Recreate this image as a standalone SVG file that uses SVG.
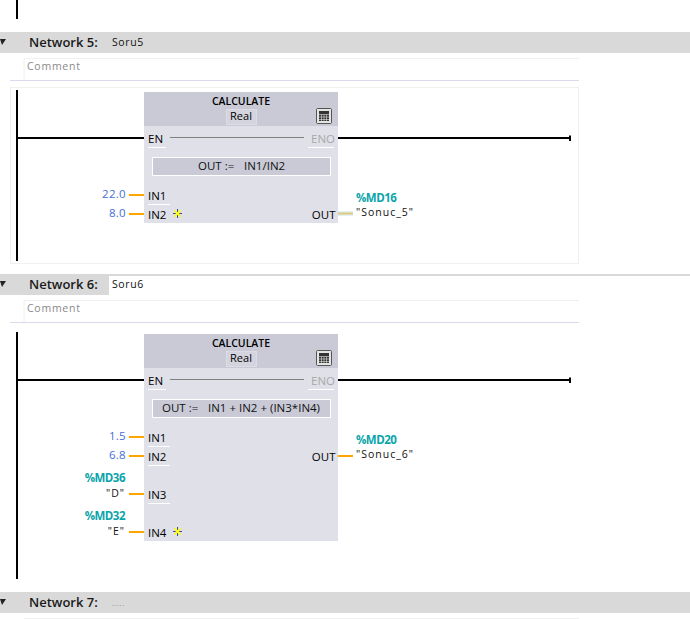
<svg xmlns="http://www.w3.org/2000/svg" width="690" height="619" viewBox="0 0 690 619">
<style>
text{font-family:"Open Sans","Noto Sans","DejaVu Sans",sans-serif;font-size:10.5px;fill:#111}
.hdr{fill:#d9d9d9}
.nt{font-size:13px;font-weight:600;fill:#1a1a1a}
.cm{fill:#8a8a8a;font-size:10.5px;letter-spacing:.75px}
.nm{letter-spacing:.6px}
.sym{letter-spacing:1px}
.pin{font-size:11.5px;fill:#000}
.lit{fill:#3f6fd8;font-size:11.5px;text-anchor:end;letter-spacing:.3px}
.ad{fill:#0aa5ab;font-weight:700;font-size:11.5px;letter-spacing:-.5px}
.ex{font-size:11.5px}
.rail{stroke:#000;stroke-width:2;fill:none}
.o{stroke:#ffa500;stroke-width:2;fill:none}
.body{fill:#e0e0e9}
.head{fill:#c9cad6}
.fx{fill:#c9cad6;stroke:#fff;stroke-width:1}
.thin{stroke:#f0f0f0;stroke-width:1;fill:none}
.sep{stroke:#d9d9ec;stroke-width:1;fill:none}
.tt{text-anchor:middle;font-weight:600;font-size:10.5px;fill:#000}
.rl{text-anchor:middle;font-weight:500;font-size:11px;fill:#000}
.ul{stroke:#fff;stroke-width:1}
.star{stroke:#ffff00;stroke-width:1.4;fill:none}
.starb{stroke:#3a4a90;stroke-width:1;fill:none}
.ic{fill:#e4e4e4;stroke:#555;stroke-width:1}
.icd{fill:#333}
.icg{stroke:#e4e4e4;stroke-width:.6;fill:none}
</style>
<defs>
<g id="star"><path class="starb" d="M-4.500 0H4.500M0 -4.500V4.500"/><path class="star" d="M-3.200 -3.200L3.200 3.200M3.200 -3.200L-3.200 3.200"/><circle r="1.800" fill="#ffff00"/></g>
</defs>
<rect width="690" height="619" fill="#fff"/>
<g id="connectors">
<path class="rail" d="M17 0V19"/>
<path class="rail" d="M17 90V261"/>
<path class="rail" d="M17 138H144M338 138H570"/>
<path d="M570 135.500V141" stroke="#000" stroke-width="2"/>
<path class="rail" d="M17 332V579"/>
<path class="rail" d="M17 380H144M338 380H570"/>
<path d="M570 377.500V383" stroke="#000" stroke-width="2"/>
<path class="o" d="M129 195H144M129 214H144M129 437H144M129 456H144M129 494H144M129 532H144M338 456H353"/>
<path d="M338 213.500H353" stroke="#e0f2f8" stroke-width="5" fill="none"/>
<path d="M338 213.500H353" stroke="#e0c878" stroke-width="2" fill="none"/>
</g>
<g id="network5-header">
<rect class="hdr" x="0" y="32" width="690" height="21"/>
<path d="M0 39H6L2 45Z" fill="#222"/>
<text class="nt" x="29" y="47">Network 5:</text>
<text class="nm" x="112" y="46">Soru5</text>
<path class="thin" d="M24 80V58.500H579"/>
<text class="cm" x="27" y="70">Comment</text>
<path class="sep" d="M10 80.500H579"/>
<rect class="thin" x="10.500" y="87.500" width="568" height="176" />
</g>
<g id="calculate5">
<rect class="body" x="144" y="92" width="194" height="131"/>
<rect class="head" x="144" y="92" width="194" height="34"/>
<text class="tt" x="241" y="105">CALCULATE</text>
<rect x="226.500" y="109.500" width="30" height="15" fill="#d3d4de" stroke="#dcdce6"/>
<text class="rl" x="241" y="120">Real</text>
<g id="calc-icon5"><rect class="ic" x="316.500" y="108.500" width="15" height="15" rx="1"/><rect class="icd" x="319" y="111" width="10" height="10"/><path class="icg" d="M319 114.500H329M319 117H329M319 119.500H329M321.500 114.500V121M324 114.500V121M326.500 114.500V121"/></g>
<text class="pin" x="148" y="143">EN</text>
<path d="M170 137.500H304" stroke="#808080"/>
<text class="pin" x="335" y="143" text-anchor="end" style="fill:#a8a8a8">ENO</text>
<path class="ul" d="M148 147.500H166M308 147.500H334"/>
<rect class="fx" x="152.500" y="157.500" width="178" height="18"/>
<text class="ex" x="198" y="170">OUT :=</text><text class="ex" x="244" y="170">IN1/IN2</text>
<text class="pin" x="148" y="200">IN1</text>
<path class="ul" d="M148 204.500H170"/>
<text class="pin" x="148" y="219">IN2</text>
<use href="#star" x="177.500" y="213.500"/>
<text class="pin" x="335.500" y="219" text-anchor="end">OUT</text>
</g>
<g id="operands5">
<text class="lit" x="126" y="198">22.0</text>
<text class="lit" x="126" y="217">8.0</text>
<text class="ad" x="356" y="202">%MD16</text>
<text class="sym" x="356" y="216">"Sonuc_5"</text>
</g>
<g id="network6-header">
<path d="M0 275H690" stroke="#d9d9d9" stroke-width="2"/>
<rect class="hdr" x="0" y="275" width="109" height="20"/>
<text class="nt" x="29" y="289">Network 6:</text>
<text class="nm" x="112" y="288">Soru6</text>
<path class="thin" d="M24 300.500H579"/>
<path class="thin" d="M24 322V300.500"/>
<text class="cm" x="27" y="312">Comment</text>
<path class="sep" d="M10 322.500H579"/>
<path d="M0 281H6L2 287Z" fill="#222"/>
</g>
<g id="calculate6">
<rect class="body" x="144" y="334" width="194" height="207"/>
<rect class="head" x="144" y="334" width="194" height="34"/>
<text class="tt" x="241" y="347">CALCULATE</text>
<rect x="226.500" y="351.500" width="30" height="15" fill="#d3d4de" stroke="#dcdce6"/>
<text class="rl" x="241" y="362">Real</text>
<g id="calc-icon6"><rect class="ic" x="316.500" y="350.500" width="15" height="15" rx="1"/><rect class="icd" x="319" y="353" width="10" height="10"/><path class="icg" d="M319 356.500H329M319 359H329M319 361.500H329M321.500 356.500V363M324 356.500V363M326.500 356.500V363"/></g>
<text class="pin" x="148" y="385">EN</text>
<path d="M170 379.500H304" stroke="#808080"/>
<text class="pin" x="335" y="385" text-anchor="end" style="fill:#a8a8a8">ENO</text>
<path class="ul" d="M148 389.500H166M308 389.500H334"/>
<rect class="fx" x="152.500" y="399.500" width="178" height="18"/>
<text class="ex" x="162" y="412">OUT :=</text><text class="ex" x="208" y="412">IN1 + IN2 + (IN3*IN4)</text>
<text class="pin" x="148" y="442">IN1</text>
<path class="ul" d="M148 446.500H170"/>
<text class="pin" x="148" y="461">IN2</text>
<path class="ul" d="M148 465.500H170"/>
<text class="pin" x="148" y="499">IN3</text>
<path class="ul" d="M148 503.500H170"/>
<text class="pin" x="148" y="537">IN4</text>
<use href="#star" x="177.500" y="531.500"/>
<text class="pin" x="335.500" y="461" text-anchor="end">OUT</text>
</g>
<g id="operands6">
<text class="lit" x="126" y="440">1.5</text>
<text class="lit" x="126" y="459">6.8</text>
<text class="ad" x="356" y="444">%MD20</text>
<text class="sym" x="356" y="458">"Sonuc_6"</text>
<text class="ad" x="125" y="482" text-anchor="end">%MD36</text>
<text class="sym" x="125" y="497" text-anchor="end">"D"</text>
<text class="ad" x="125" y="520" text-anchor="end">%MD32</text>
<text class="sym" x="125" y="535" text-anchor="end">"E"</text>
</g>
<g id="network7-header">
<rect class="hdr" x="0" y="592" width="690" height="21"/>
<path d="M0 599H6L2 605Z" fill="#222"/>
<text class="nt" x="29" y="607">Network 7:</text>
<text x="112" y="606" style="font-size:7px;fill:#888;letter-spacing:.7px">.....</text>
<path class="thin" d="M24 618.500H579"/>
</g>
</svg>
